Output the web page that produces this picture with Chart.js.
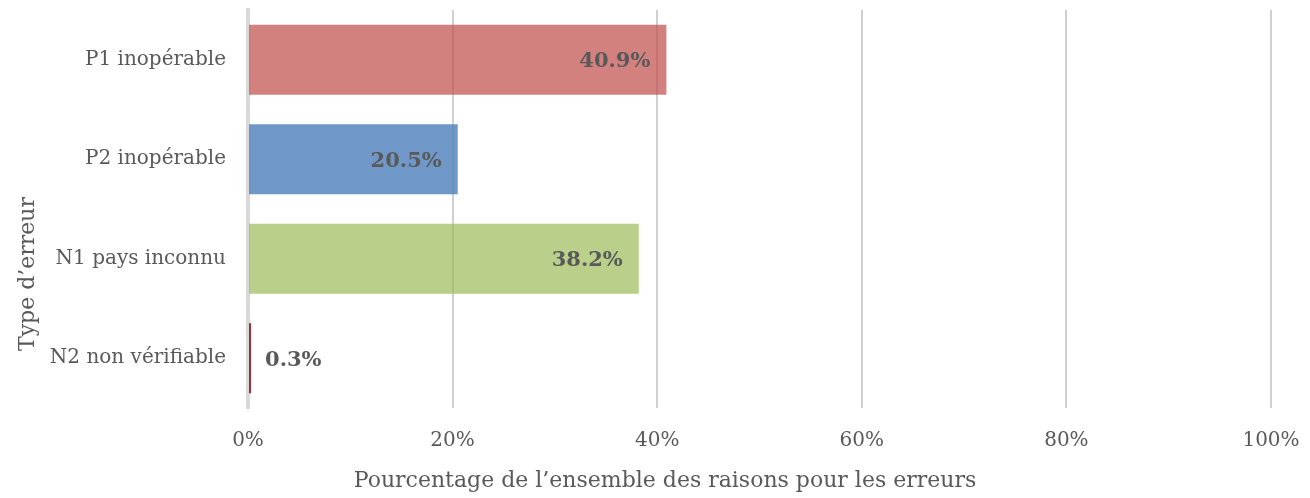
<!DOCTYPE html>
<html>
<head>
<meta charset="utf-8">
<script src="https://cdn.jsdelivr.net/npm/chart.js@4"></script>
<style>
html,body{margin:0;padding:0;background:#fff;}
#wrap{width:1310px;height:498px;position:relative;}
</style>
</head>
<body>
<div id="wrap"><canvas id="c" width="1310" height="498"></canvas></div>
<script>
const categories = ["P1 inopérable", "P2 inopérable", "N1 pays inconnu", "N2 non vérifiable"];
const values = [40.9, 20.5, 38.2, 0.3];
const valueLabels = ["40.9%", "20.5%", "38.2%", "0.3%"];
const xTickValues = [0, 20, 40, 60, 80, 100];
const xTitle = "Pourcentage de l\u2019ensemble des raisons pour les erreurs";
const yTitle = "Type d\u2019erreur";
const barColors = ["rgba(192,80,77,0.72)", "rgba(79,129,189,0.82)", "rgba(155,187,89,0.7)", "rgba(140,30,40,0.9)"];

const FONT = "'DejaVu Serif', serif";
const TXT = "#595959";

const labelPlugin = {
  id: 'labels',
  afterDatasetsDraw(chart) {
    const ctx = chart.ctx;
    const meta = chart.getDatasetMeta(0);
    ctx.save();
    ctx.font = "bold 21px " + FONT;
    ctx.fillStyle = TXT;
    ctx.textBaseline = 'middle';
    meta.data.forEach((bar, i) => {
      const w = bar.x - bar.base;
      const tw = ctx.measureText(valueLabels[i]).width;
      if (w > tw + 20) {
        ctx.textAlign = 'right';
        ctx.fillText(valueLabels[i], bar.x - 16, bar.y + 2);
      } else {
        ctx.textAlign = 'left';
        ctx.fillText(valueLabels[i], bar.x + 14, bar.y + 2);
      }
    });
    ctx.restore();
  }
};

const titlePlugin = {
  id: 'titles',
  afterDraw(chart) {
    const ctx = chart.ctx;
    ctx.save();
    ctx.font = "22px " + FONT;
    ctx.fillStyle = TXT;
    ctx.textAlign = 'center';
    ctx.textBaseline = 'middle';
    ctx.fillText(xTitle, 665, 481);
    ctx.translate(28, 274);
    ctx.rotate(-Math.PI / 2);
    ctx.fillText(yTitle, 0, 0);
    ctx.restore();
  }
};

new Chart(document.getElementById('c'), {
  type: 'bar',
  data: {
    labels: categories,
    datasets: [{
      data: values,
      backgroundColor: barColors,
      borderWidth: 0,
      barPercentage: 0.705,
      categoryPercentage: 1.0
    }]
  },
  options: {
    indexAxis: 'y',
    responsive: false,
    animation: false,
    devicePixelRatio: 1,
    layout: { padding: { left: 0, right: 39, top: 10, bottom: 0 } },
    plugins: { legend: { display: false }, tooltip: { enabled: false } },
    scales: {
      x: {
        min: 0, max: 100,
        afterBuildTicks(axis) { axis.ticks = xTickValues.map(v => ({ value: v })); },
        afterFit(axis) { axis.height = 90; axis.paddingLeft = 0; axis.paddingRight = 0; },
        grid: {
          color: ctx => ctx.tick && ctx.tick.value === 0 ? 'rgba(0,0,0,0)' : '#d0d0d0',
          lineWidth: 2,
          drawTicks: false
        },
        border: { display: false },
        ticks: {
          color: TXT,
          font: { family: FONT, size: 20 },
          padding: 21,
          callback: v => v + '%'
        }
      },
      y: {
        afterFit(axis) { axis.width = 248; axis.paddingTop = 0; axis.paddingBottom = 0; },
        grid: { display: false, drawTicks: false },
        border: { display: true, color: '#d9d9d9', width: 4 },
        ticks: {
          color: TXT,
          font: { family: FONT, size: 20 },
          padding: 22
        }
      }
    }
  },
  plugins: [labelPlugin, titlePlugin]
});
</script>
</body>
</html>
